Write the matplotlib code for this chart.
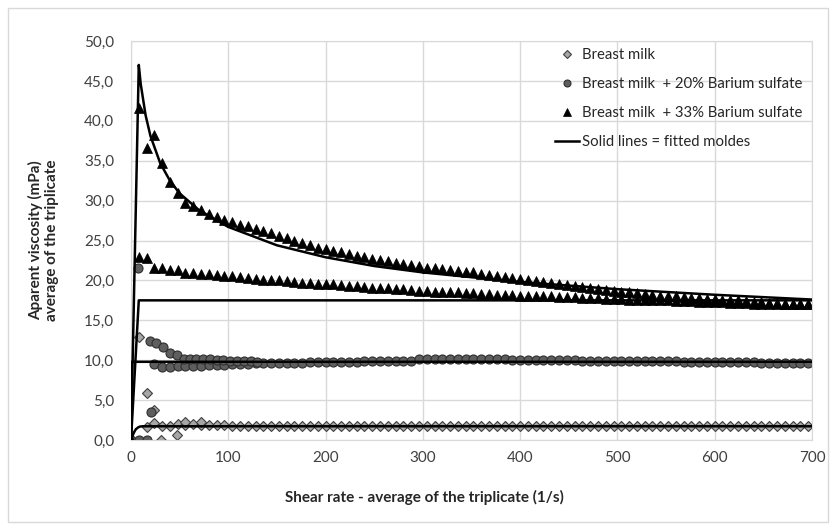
import numpy as np
import matplotlib.pyplot as plt
from matplotlib.patches import Rectangle
from matplotlib.lines import Line2D
from matplotlib.ticker import FuncFormatter

plt.rcParams['font.family'] = ['Lato', 'DejaVu Sans']

# shear rate grid (1/s), average of the triplicate
shear_rate = [0, 8, 16, 24, 32, 40, 48, 56, 64, 72, 80,
              88, 96, 104, 112, 120, 128, 136, 144, 152, 160, 168,
              176, 184, 192, 200, 208, 216, 224, 232, 240, 248, 256,
              264, 272, 280, 288, 296, 304, 312, 320, 328, 336, 344,
              352, 360, 368, 376, 384, 392, 400, 408, 416, 424, 432,
              440, 448, 456, 464, 472, 480, 488, 496, 504, 512, 520,
              528, 536, 544, 552, 560, 568, 576, 584, 592, 600, 608,
              616, 624, 632, 640, 648, 656, 664, 672, 680, 688, 696]

# breast milk + 33% barium sulfate (two runs)
tri_upper = [0, 41.6, 36.6, 38.2, 34.7, 32.3, 31.0, 29.7, 29.3, 28.8, 28.3,
             27.9, 27.6, 27.3, 27.0, 26.8, 26.5, 26.2, 25.9, 25.6, 25.3, 25.0,
             24.7, 24.4, 24.1, 23.9, 23.7, 23.5, 23.3, 23.1, 22.9, 22.7, 22.6,
             22.4, 22.2, 22.1, 21.9, 21.8, 21.6, 21.5, 21.4, 21.3, 21.2, 21.1,
             21.0, 20.8, 20.7, 20.6, 20.4, 20.3, 20.2, 20.0, 19.9, 19.8, 19.7,
             19.6, 19.4, 19.3, 19.2, 19.1, 18.9, 18.8, 18.7, 18.6, 18.5, 18.4,
             18.3, 18.2, 18.1, 18.1, 18.0, 17.9, 17.8, 17.8, 17.7, 17.7, 17.6,
             17.5, 17.5, 17.4, 17.3, 17.3, 17.2, 17.2, 17.1, 17.1, 17.0, 17.0]
tri_lower = [0, 22.9, 22.8, 21.6, 21.6, 21.3, 21.3, 20.9, 20.9, 20.8, 20.8,
             20.7, 20.6, 20.5, 20.4, 20.3, 20.2, 20.1, 20.0, 20.0, 19.9, 19.8,
             19.7, 19.7, 19.6, 19.5, 19.5, 19.4, 19.3, 19.3, 19.2, 19.1, 19.1,
             19.0, 18.9, 18.9, 18.8, 18.7, 18.7, 18.6, 18.6, 18.5, 18.5, 18.4,
             18.4, 18.3, 18.3, 18.2, 18.2, 18.2, 18.1, 18.1, 18.0, 18.0, 18.0,
             17.9, 17.9, 17.9, 17.8, 17.8, 17.8, 17.7, 17.7, 17.7, 17.6, 17.6,
             17.6, 17.5, 17.5, 17.5, 17.4, 17.4, 17.4, 17.3, 17.3, 17.3, 17.3,
             17.2, 17.2, 17.2, 17.1, 17.1, 17.1, 17.1, 17.0, 17.0, 17.0, 17.0]

# breast milk + 20% barium sulfate
circ_main = [0, 0.0, 0.0, 9.5, 9.1, 9.1, 9.3, 9.3, 9.3, 9.3, 9.4,
             9.4, 9.45, 9.5, 9.5, 9.55, 9.6, 9.6, 9.65, 9.65, 9.7, 9.7,
             9.7, 9.75, 9.75, 9.75, 9.8, 9.8, 9.8, 9.8, 9.85, 9.85, 9.85,
             9.9, 9.9, 9.9, 9.95, 10.2, 10.2, 10.2, 10.2, 10.15, 10.15, 10.15,
             10.1, 10.1, 10.1, 10.1, 10.1, 10.05, 10.05, 10.05, 10.05, 10.0, 10.0,
             10.0, 10.0, 10.0, 9.95, 9.95, 9.95, 9.95, 9.9, 9.9, 9.9, 9.9,
             9.9, 9.85, 9.85, 9.85, 9.85, 9.8, 9.8, 9.8, 9.8, 9.8, 9.75,
             9.75, 9.75, 9.75, 9.75, 9.7, 9.7, 9.7, 9.7, 9.7, 9.7, 9.7]
circ_extra_x = [7, 20, 21, 26, 33, 40, 47, 54, 61, 67, 74, 81, 88, 95, 102, 109, 116, 123, 130]
circ_extra_y = [21.5, 12.4, 3.5, 12.1, 11.7, 10.9, 10.65, 10.2, 10.2, 10.2, 10.2,
                10.1, 10.0, 10.0, 9.95, 9.9, 9.9, 9.85, 9.8]

# breast milk
diam_main = [0, np.nan, 1.6, 2.1, 1.8, 1.8, 2.0, 1.9, 2.0, 1.9, 1.9,
             1.85, 1.85, 1.8, 1.8, 1.8, 1.8, 1.8, 1.8, 1.8, 1.8, 1.8,
             1.8, 1.8, 1.8, 1.8, 1.8, 1.8, 1.8, 1.8, 1.8, 1.8, 1.8,
             1.8, 1.8, 1.8, 1.8, 1.8, 1.8, 1.75, 1.75, 1.75, 1.75, 1.75,
             1.75, 1.75, 1.75, 1.75, 1.75, 1.75, 1.75, 1.75, 1.75, 1.75, 1.75,
             1.75, 1.75, 1.75, 1.75, 1.75, 1.75, 1.75, 1.75, 1.75, 1.75, 1.75,
             1.75, 1.75, 1.75, 1.75, 1.75, 1.75, 1.75, 1.75, 1.75, 1.75, 1.75,
             1.75, 1.75, 1.75, 1.75, 1.75, 1.75, 1.75, 1.75, 1.75, 1.75, 1.75]
diam_extra_x = [8, 16, 24, 31, 47, 56, 72]
diam_extra_y = [12.9, 5.85, 3.75, 0.0, 0.6, 2.2, 2.3]

# fitted models
fit33_x = [0, 8, 10, 15, 20, 30, 40, 50, 70, 100, 150, 200, 250, 300, 400, 500, 600, 700]
fit33_y = [0, 47.0, 44.6, 40.7, 38.1, 34.7, 32.5, 30.9, 28.8, 26.7, 24.4, 22.9, 21.8, 21.0,
           19.8, 18.9, 18.2, 17.6]
fit33b_x = [0, 8, 700]
fit33b_y = [0, 17.5, 17.5]
fit20_x = [0, 0.5, 700]
fit20_y = [0, 9.8, 9.8]
fitmilk_x = [0, 1, 2, 3.5, 5, 7, 9, 12, 700]
fitmilk_y = [0, 0.35, 0.65, 1.05, 1.35, 1.55, 1.68, 1.72, 1.72]

grid_c = '#d9d9d9'
diam_kw = dict(ls='none', marker='D', ms=5.5, mfc='#a6a6a6', mec='#3f3f3f', mew=0.8)
circ_kw = dict(ls='none', marker='o', ms=6.5, mfc='#5e5e5e', mec='#2e2e2e', mew=0.8)
tri_kw = dict(ls='none', marker='^', ms=7.5, mfc='black', mec='black', mew=0.5)

fig = plt.figure(figsize=(8.36, 5.28), dpi=100)
ax = fig.add_axes([131 / 836, 1 - 440 / 528, (812 - 131) / 836, (440 - 41) / 528])

ax.plot(shear_rate, diam_main, **diam_kw)
ax.plot(diam_extra_x, diam_extra_y, **diam_kw)
ax.plot(shear_rate, circ_main, **circ_kw)
ax.plot(circ_extra_x, circ_extra_y, **circ_kw)
ax.plot(shear_rate, tri_upper, **tri_kw)
ax.plot(shear_rate, tri_lower, **tri_kw)

for fx, fy in [(fit33_x, fit33_y), (fit33b_x, fit33b_y), (fit20_x, fit20_y), (fitmilk_x, fitmilk_y)]:
    ax.plot(fx, fy, color='black', lw=1.8, zorder=3)

ax.set_xlim(0, 700)
ax.set_ylim(0, 50)
ax.set_xticks(range(0, 701, 100))
ax.set_yticks(np.arange(0, 50.1, 5))
ax.yaxis.set_major_formatter(FuncFormatter(lambda v, p: f"{v:.1f}".replace('.', ',')))
ax.tick_params(length=0, labelsize=11, colors='#404040')
ax.tick_params(axis='y', pad=12)
ax.tick_params(axis='x', pad=8)
ax.grid(color=grid_c, lw=1)
ax.set_axisbelow(True)
for s in ax.spines.values():
    s.set_color(grid_c)

fig.text(0.052, 1 - 240 / 528, 'Aparent viscosity (mPa)\naverage of the triplicate',
         rotation=90, ha='center', va='center', multialignment='center',
         fontsize=11, fontweight='bold', color='#262626')
fig.text(424 / 836, 1 - 497 / 528, 'Shear rate - average of the triplicate (1/s)',
         ha='center', va='center', fontsize=11, fontweight='bold', color='#262626')

handles = [
    Line2D([], [], **{**diam_kw, 'ms': 4.5}),
    Line2D([], [], **{**circ_kw, 'ms': 5}),
    Line2D([], [], **{**tri_kw, 'ms': 6}),
    Line2D([], [], color='black', lw=1.8),
]
labels = ['Breast milk', 'Breast milk  + 20% Barium sulfate',
          'Breast milk  + 33% Barium sulfate', 'Solid lines = fitted moldes']
fig.legend(handles, labels, loc='upper left', bbox_to_anchor=(542 / 836, 1 - 35 / 528),
           frameon=False, fontsize=10.7, labelspacing=1.0, handlelength=1.6,
           handletextpad=0.2, labelcolor='#262626')

fig.patches.append(Rectangle((8 / 836, 6 / 528), 820 / 836, 514 / 528, transform=fig.transFigure,
                             fill=False, edgecolor=grid_c, lw=1))

fig.savefig('out.png', dpi=100)
